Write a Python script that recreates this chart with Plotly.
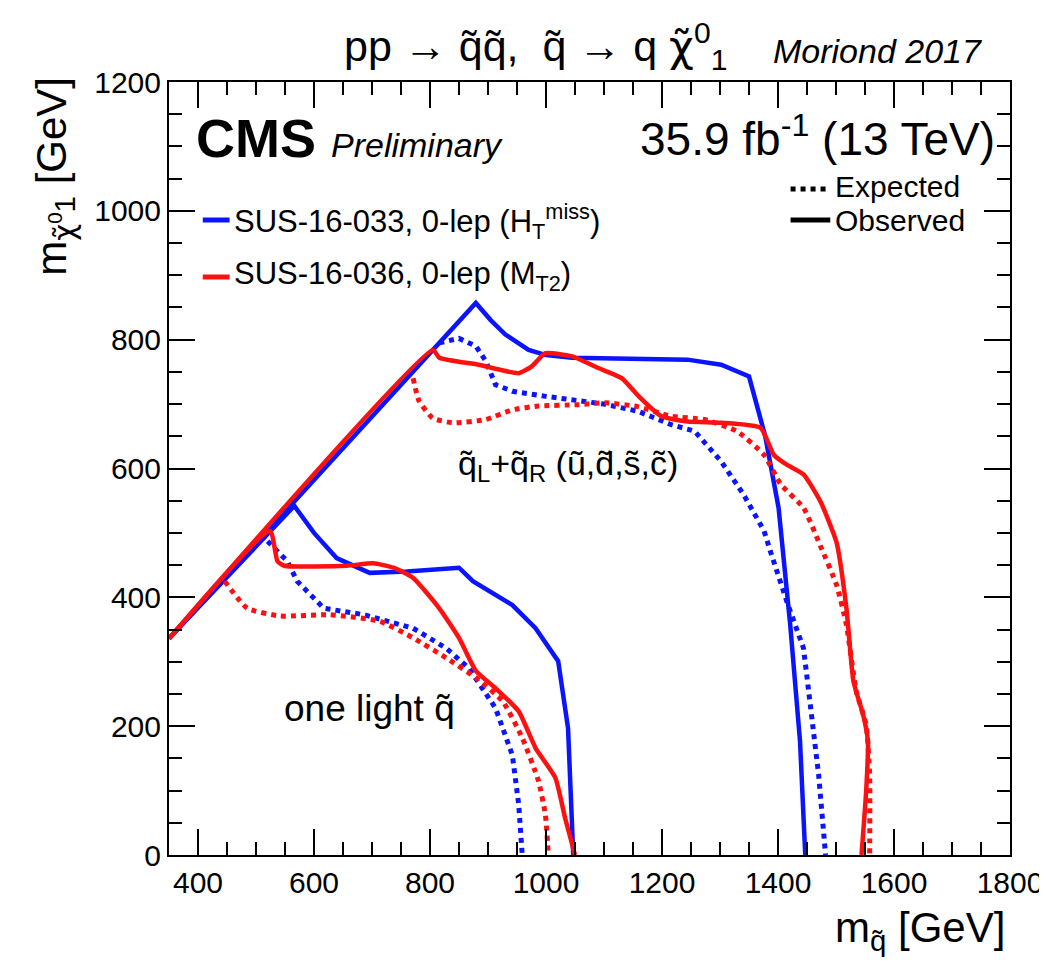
import plotly.graph_objects as go

# ---------------- data (m_squark, m_LSP) in GeV ----------------
# q_L + q_R (u,d,s,c) : 8-fold degenerate
blue_big_obs_x = [350, 879, 905, 930, 970, 1000, 1045, 1100, 1170, 1244, 1302, 1350, 1378, 1401, 1421, 1438, 1447]
blue_big_obs_y = [336, 857, 830, 808, 784, 776, 772, 771, 769, 769, 761, 743, 650, 539, 358, 176, 0]
blue_big_exp_x = [816, 850, 879, 896, 913, 942, 1000, 1045, 1100, 1158, 1216, 1256, 1302, 1341, 1376, 1387, 1415, 1444, 1456, 1470, 1482]
blue_big_exp_y = [795, 802, 790, 767, 730, 720, 712, 707, 700, 689, 668, 658, 611, 559, 503, 471, 394, 321, 228, 125, 0]
red_big_obs_x = [350, 805, 816, 884, 953, 976, 999, 1045, 1090, 1131, 1160, 1199, 1244, 1302, 1370, 1393, 1415, 1444, 1473, 1501, 1518, 1530, 1547, 1555, 1552, 1544]
red_big_obs_y = [336, 784, 772, 761, 748, 759, 779, 774, 756, 740, 712, 681, 673, 671, 663, 621, 606, 591, 549, 485, 383, 270, 217, 177, 99, 0]
red_big_exp_x = [771, 781, 805, 840, 896, 942, 987, 1055, 1102, 1158, 1216, 1273, 1329, 1376, 1405, 1444, 1473, 1501, 1518, 1535, 1552, 1558, 1558]
red_big_exp_y = [740, 705, 678, 671, 676, 691, 697, 699, 702, 696, 681, 676, 658, 621, 575, 539, 480, 419, 357, 254, 202, 125, 0]

# one light squark
blue_small_obs_x = [350, 566, 600, 639, 696, 760, 850, 874, 942, 982, 1021, 1038, 1047]
blue_small_obs_y = [336, 542, 500, 461, 438, 440, 446, 425, 388, 352, 301, 197, 0]
blue_small_exp_x = [520, 554, 571, 617, 686, 771, 828, 867, 913, 942, 953, 959]
blue_small_exp_y = [487, 456, 425, 383, 373, 352, 321, 290, 228, 155, 78, 0]
red_small_obs_x = [350, 524, 537, 549, 656, 702, 737, 771, 816, 850, 879, 913, 953, 982, 1016, 1033, 1050]
red_small_obs_y = [336, 503, 456, 449, 449, 453, 446, 430, 383, 337, 286, 259, 223, 166, 120, 57, 0]
red_small_exp_x = [446, 485, 542, 627, 713, 771, 828, 879, 925, 959, 987, 999, 1004]
red_small_exp_y = [425, 383, 371, 373, 363, 337, 306, 275, 239, 182, 115, 62, 0]

BLUE = "#0a14ff"
RED = "#ff1010"
FONT = "Liberation Sans"
CHI = "<span style='font-family:DejaVu Sans'>χ̃</span>"

fig = go.Figure()

def add(x, y, color, dash, shape="linear"):
    fig.add_trace(go.Scatter(
        x=x, y=y, mode="lines", showlegend=False, hoverinfo="skip",
        line=dict(color=color, width=4.5 if dash == "solid" else 5, dash=dash,
                  shape=shape, smoothing=0.5 if shape == "spline" else None),
    ))

add(blue_big_exp_x, blue_big_exp_y, BLUE, "dot")
add(blue_small_exp_x, blue_small_exp_y, BLUE, "dot")
add(blue_big_obs_x, blue_big_obs_y, BLUE, "solid")
add(blue_small_obs_x, blue_small_obs_y, BLUE, "solid")
add(red_big_exp_x, red_big_exp_y, RED, "dot", "spline")
add(red_small_exp_x, red_small_exp_y, RED, "dot", "spline")
add(red_big_obs_x, red_big_obs_y, RED, "solid", "spline")
add(red_small_obs_x, red_small_obs_y, RED, "solid", "spline")

# plot area in pixels
L, R, T, B = 161, 1008, 74, 847
W, H = R - L, B - T

def px(x):
    return (x - L) / W

def py(y):
    return (B - y) / H

def txt(text, x, y, size, xanchor="left", yanchor="middle", angle=0):
    fig.add_annotation(text=text, x=px(x), y=py(y), xref="paper", yref="paper",
                       xanchor=xanchor, yanchor=yanchor, showarrow=False,
                       textangle=angle, font=dict(family=FONT, size=size, color="black"))

def seg(x0, x1, y, color, dash):
    fig.add_shape(type="line", xref="paper", yref="paper", x0=px(x0), x1=px(x1),
                  y0=py(y), y1=py(y), line=dict(color=color, width=5, dash=dash))

txt("pp → q̃q̃,  q̃ → q " + CHI + "<sup>0</sup><sub>1</sub>", 530, 38, 43, "center")
txt("<i>Moriond 2017</i>", 982, 43, 34, "right")
txt("<b>CMS</b>", 186, 130, 54)
txt("<i>Preliminary</i>", 322, 137, 34)
txt("35.9 fb<sup>-1</sup> (13 TeV)", 995, 128, 46, "right")

seg(195, 222, 212, BLUE, "solid")
txt("SUS-16-033, 0-lep (H<sub>T</sub><sup>miss</sup>)", 224, 214, 31)
seg(195, 222, 269, RED, "solid")
txt("SUS-16-036, 0-lep (M<sub>T2</sub>)", 224, 268, 31)

seg(787, 827, 181, "black", "dot")
txt("Expected", 830, 178, 30)
seg(787, 827, 212, "black", "solid")
txt("Observed", 830, 213, 30)

txt("q̃<sub>L</sub>+q̃<sub>R</sub> (ũ,d̃,s̃,c̃)", 450, 458, 34)
txt("one light q̃", 275, 700, 37)

txt("m<sub>q̃</sub> [GeV]", 1005, 922, 42, "right")
txt("m<sub>" + CHI + "<sup>0</sup>1</sub> [GeV]", 46, 168, 42, "center", "middle", -90)

axis_common = dict(
    showline=True, linecolor="black", linewidth=2, mirror="ticks",
    ticks="inside", ticklen=26, tickwidth=1.5, tickcolor="black",
    showgrid=False, zeroline=False,
    tickfont=dict(family=FONT, size=30, color="black"),
    minor=dict(ticks="inside", ticklen=13, tickwidth=1.5, tickcolor="black",
               dtick=50, showgrid=False),
)

fig.update_layout(
    width=1047, height=965,
    margin=dict(l=L, r=1047 - R, t=T, b=965 - B),
    paper_bgcolor="white", plot_bgcolor="white",
    xaxis=dict(range=[350, 1800], dtick=200, tick0=0, **axis_common),
    yaxis=dict(range=[0, 1200], dtick=200, tick0=0, **axis_common),
    showlegend=False,
)

fig.write_html("out.html")
